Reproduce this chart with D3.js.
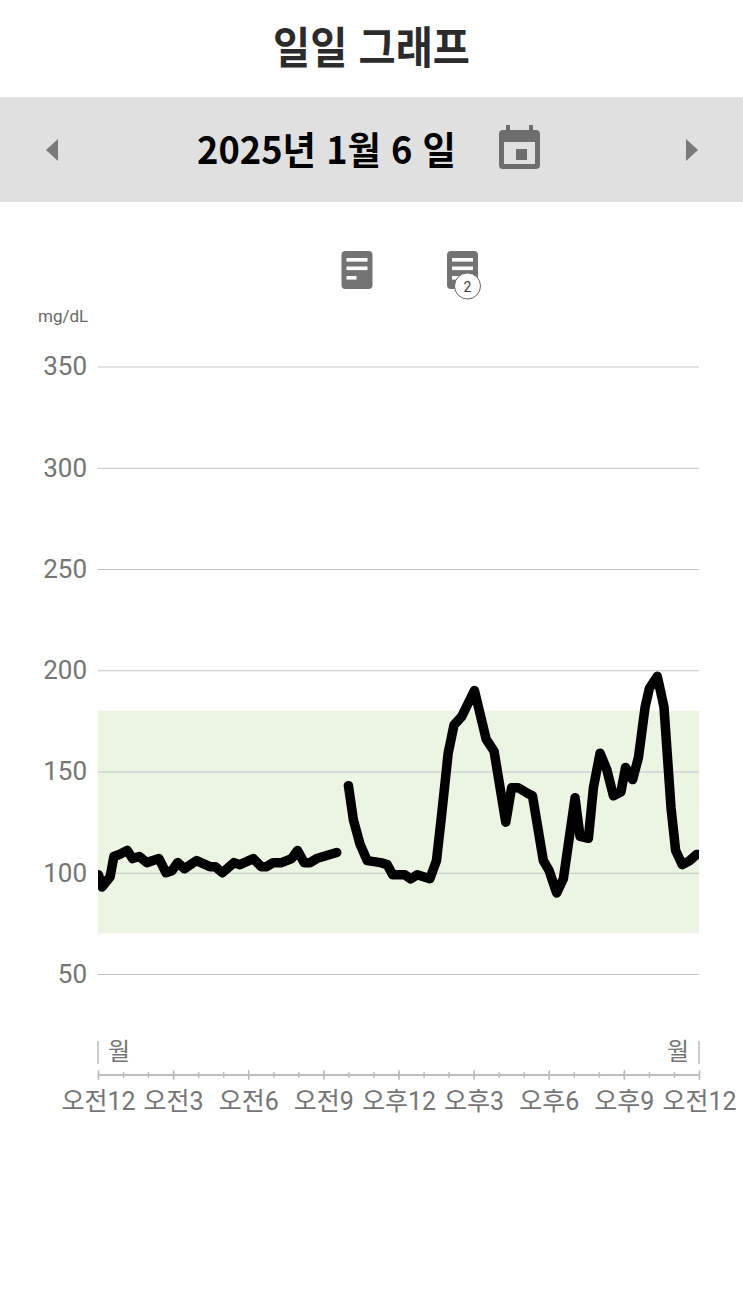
<!DOCTYPE html>
<html lang="ko"><head><meta charset="utf-8">
<script src="https://cdn.jsdelivr.net/npm/d3@7"></script>
<style>
html,body{margin:0;padding:0;background:#fff;width:743px;height:1305px;overflow:hidden}
svg{display:block}
text{font-family:Roboto,"Noto Sans CJK KR",sans-serif}
.cjk{font-family:"Noto Sans CJK KR",sans-serif}
</style></head><body>
<script>
const titleText = "일일 그래프";
const dateText = "2025년 1월 6 일";
const unitText = "mg/dL";
const dayLabel = "월";
const noteBadge = "2";
const yTicks = [50,100,150,200,250,300,350];
const targetRange = [70,180];
const majorTickMinutes = [0,180,360,540,720,900,1080,1260,1440];
const majorTickLabels = ["오전12","오전3","오전6","오전9","오후12","오후3","오후6","오후9","오전12"];
const minorTickMinutes = d3.range(0,1441,60);
const morningMinutes = [1,10,29,38,51,70,83,99,117,146,163,177,191,207,236,268,281,298,326,340,372,391,404,420,440,464,478,494,508,524,572];
const morningGlucose = [99,93,98,108,109,111,107,108,105,107,100,101,105,102,106,103,103,100,105,104,107,103,103,105,105,107,111,105,105,107,110];
const afternoonMinutes = [600,612,628,645,677,693,706,735,749,765,795,811,823,839,853,871,902,930,949,977,991,1007,1031,1041,1067,1081,1099,1115,1143,1155,1175,1187,1203,1219,1235,1253,1264,1281,1295,1311,1321,1340,1356,1373,1384,1400,1418,1434,1440];
const afternoonGlucose = [143,126,114,106,105,104,99,99,97,99,97,106,128,159,173,177,190,166,160,125,142,142,139,138,106,101,90,97,137,118,117,142,159,151,138,140,152,146,157,182,191,197,182,132,111,104,106,109,109];

const W=743,H=1305;
const svg=d3.select("body").append("svg").attr("width",W).attr("height",H);
const x=d3.scaleLinear().domain([0,1440]).range([98,699]);
const y=d3.scaleLinear().domain([50,350]).range([974,366.5]);
const GREY="#757575";

// header
svg.append("text").attr("class","cjk").attr("x",371.5).attr("y",64).attr("text-anchor","middle")
  .attr("font-size",44).attr("font-weight",700).attr("fill","#2b2b2b").attr("textLength",197).attr("lengthAdjust","spacingAndGlyphs").text(titleText);
svg.append("rect").attr("x",0).attr("y",97).attr("width",W).attr("height",105).attr("fill","#e0e0e0");
svg.append("text").attr("class","cjk").attr("x",326.5).attr("y",164).attr("text-anchor","middle")
  .attr("font-size",38).attr("font-weight",700).attr("fill","#000").attr("textLength",259).attr("lengthAdjust","spacingAndGlyphs").text(dateText);
svg.append("path").attr("d","M58 139L46 150L58 161Z").attr("fill","#7a7a7a");
svg.append("path").attr("d","M686 139L698 150L686 161Z").attr("fill","#7a7a7a");
// calendar icon
const cal=svg.append("g").attr("fill","#6e6e6e");
cal.append("path").attr("fill-rule","evenodd").attr("d","M506 125h4v5h19v-5h4v5h3a4 4 0 0 1 4 4v31a4 4 0 0 1-4 4h-33a4 4 0 0 1-4-4v-31a4 4 0 0 1 4-4h3zM504 142v22h31v-22z");
cal.append("rect").attr("x",516).attr("y",149).attr("width",11).attr("height",11);
// note icons
function note(cx){
  const g=svg.append("g").attr("transform",`translate(${cx-16},251)`);
  g.append("rect").attr("width",31).attr("height",38).attr("rx",4).attr("fill","#737373");
  [[5,7,21],[5,15.5,21],[5,25,10]].forEach(r=>g.append("rect").attr("x",r[0]).attr("y",r[1]).attr("width",r[2]).attr("height",3.6).attr("fill","#fff"));
}
note(357.5);note(463);
svg.append("circle").attr("cx",467.5).attr("cy",286).attr("r",13).attr("fill","#fff").attr("stroke","#666").attr("stroke-width",1);
svg.append("text").attr("x",467.5).attr("y",291.5).attr("text-anchor","middle").attr("font-size",14).attr("fill","#444").text(noteBadge);
svg.append("text").attr("x",38).attr("y",322).attr("font-size",17).attr("fill","#666").text(unitText);

// target band
svg.append("rect").attr("x",x(0)).attr("width",x(1440)-x(0)).attr("y",y(targetRange[1])).attr("height",y(targetRange[0])-y(targetRange[1])).attr("fill","#ecf4e4");

// y axis and grid
const yAxis=svg.append("g").attr("transform",`translate(${x(0)},0)`)
  .call(d3.axisLeft(y).tickValues(yTicks).tickSize(-(x(1440)-x(0))).tickPadding(11));
yAxis.select(".domain").remove();
yAxis.selectAll("line").attr("stroke","#c4c4c4").attr("stroke-width",1);
yAxis.selectAll("text").attr("font-size",26).attr("fill",GREY).attr("font-family","Roboto");

// glucose trace
const defs=svg.append("defs");
defs.append("clipPath").attr("id","plot").append("rect").attr("x",x(0)).attr("y",300).attr("width",x(1440)-x(0)).attr("height",700);
const line=d3.line().x(d=>x(d[0])).y(d=>y(d[1])).curve(d3.curveLinear);
[[morningMinutes,morningGlucose],[afternoonMinutes,afternoonGlucose]].forEach(([m,g])=>{
  svg.append("path").attr("clip-path","url(#plot)").attr("d",line(d3.zip(m,g)))
    .attr("fill","none").attr("stroke","#000").attr("stroke-width",9.5).attr("stroke-linejoin","round").attr("stroke-linecap","round");
});

// day markers
[[0,108,"start"],[1440,689,"end"]].forEach(([m,tx,a])=>{
  svg.append("line").attr("x1",x(m)).attr("x2",x(m)).attr("y1",1041).attr("y2",1064).attr("stroke","#999").attr("stroke-width",1);
  svg.append("text").attr("class","cjk").attr("x",tx).attr("y",1060).attr("text-anchor",a).attr("font-size",24).attr("fill",GREY).text(dayLabel);
});

// x axis
const AX=1075;
const minor=svg.append("g").attr("transform",`translate(0,${AX})`)
  .call(d3.axisBottom(x).tickValues(minorTickMinutes).tickSize(4).tickFormat(""));
minor.select(".domain").remove();
minor.selectAll("line").attr("stroke","#bdbdbd").attr("stroke-width",1.5).attr("transform","translate(0,-3)").attr("y2",6);
const major=svg.append("g").attr("transform",`translate(0,${AX})`)
  .call(d3.axisBottom(x).tickValues(majorTickMinutes).tickSizeOuter(0).tickSize(5).tickPadding(12)
    .tickFormat((d,i)=>majorTickLabels[i]));
major.select(".domain").attr("stroke","#bdbdbd").attr("stroke-width",2).attr("d",`M${x(0)},0H${x(1440)}`);
major.selectAll("line").attr("stroke","#bdbdbd").attr("stroke-width",1.5).attr("y1",-5).attr("y2",5);
major.selectAll("text").attr("font-size",25).attr("fill",GREY).attr("font-family",'Roboto,"Noto Sans CJK KR",sans-serif');
</script>
</body></html>
